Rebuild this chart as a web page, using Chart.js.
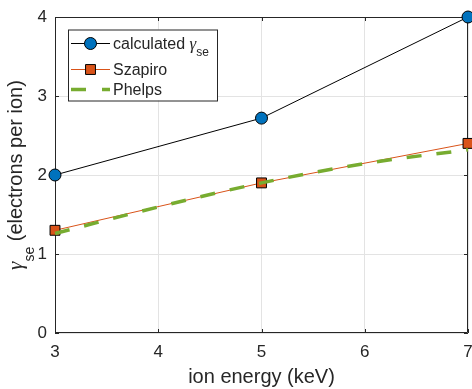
<!DOCTYPE html>
<html>
<head>
<meta charset="utf-8">
<script src="https://cdn.jsdelivr.net/npm/chart.js@4.4.1/dist/chart.umd.min.js"></script>
<style>
  html, body { margin: 0; padding: 0; background: #ffffff; }
  #wrap { width: 472px; height: 389px; }
</style>
</head>
<body>
<div id="wrap"><canvas id="c" width="472" height="389"></canvas></div>
<script>
// Secondary electron yield versus ion energy
const energies = [3, 5, 7];
const calculated = [2.0, 2.72, 4.0];
const szapiro = [1.30, 1.90, 2.40];
const phelpsEnergies = [3, 4, 5, 6, 7];
const phelps = [1.26, 1.595, 1.90, 2.145, 2.32];
const xTicks = [3, 4, 5, 6, 7];
const yTicks = [0, 1, 2, 3, 4];

const SANS = '"Liberation Sans", Arial, Helvetica, sans-serif';
const SERIF = '"Liberation Serif", "DejaVu Serif", serif';
const INK = '#262626';
const GRID = '#e3e3e3';
const BLUE = '#0072BD';
const ORANGE = '#D95319';
const GREEN = '#77AC30';

const pts = (xs, ys) => xs.map((x, i) => ({ x: x, y: ys[i] }));

// Axes box with inward tick marks on all four sides
const boxPlugin = {
  id: 'box',
  beforeDatasetsDraw(chart) {
    const { ctx, chartArea: a, scales } = chart;
    ctx.save();
    ctx.strokeStyle = INK;
    ctx.lineWidth = 1;
    ctx.beginPath();
    ctx.rect(a.left + 0.5, a.top + 0.5, a.right - a.left - 1, a.bottom - a.top - 1);
    ctx.stroke();
    const tl = 4;
    ctx.beginPath();
    xTicks.forEach(v => {
      const px = Math.round(scales.x.getPixelForValue(v)) + 0.5;
      ctx.moveTo(px, a.bottom); ctx.lineTo(px, a.bottom - tl);
      ctx.moveTo(px, a.top); ctx.lineTo(px, a.top + tl);
    });
    yTicks.forEach(v => {
      const py = Math.round(scales.y.getPixelForValue(v)) + 0.5;
      ctx.moveTo(a.left, py); ctx.lineTo(a.left + tl, py);
      ctx.moveTo(a.right, py); ctx.lineTo(a.right - tl, py);
    });
    ctx.stroke();
    ctx.restore();
  }
};

// Draws a text run with a subscript, returns advance width
function runWidth(ctx, parts) {
  let w = 0;
  parts.forEach(p => { ctx.font = p.font; w += ctx.measureText(p.text).width; });
  return w;
}
function drawRun(ctx, parts, x, y) {
  parts.forEach(p => {
    ctx.font = p.font;
    ctx.fillText(p.text, x, y + (p.dy || 0));
    x += ctx.measureText(p.text).width;
  });
  return x;
}

// Y-axis title and legend box
const annotPlugin = {
  id: 'annot',
  afterDraw(chart) {
    const ctx = chart.ctx;
    const a = chart.chartArea;
    ctx.save();
    ctx.fillStyle = INK;
    ctx.textBaseline = 'alphabetic';
    ctx.textAlign = 'left';

    // y title, rotated
    const yParts = [
      { text: '\u03B3', font: 'italic 21px ' + SERIF },
      { text: 'se', font: '14px ' + SANS, dy: 12 },
      { text: ' (electrons per ion)', font: '20px ' + SANS }
    ];
    const tw = runWidth(ctx, yParts);
    ctx.save();
    ctx.translate(22, (a.top + a.bottom) / 2);
    ctx.rotate(-Math.PI / 2);
    drawRun(ctx, yParts, -tw / 2, 0);
    ctx.restore();

    // legend
    const L = { x: 68, y: 29.5, w: 149, h: 71 };
    ctx.fillStyle = '#ffffff';
    ctx.fillRect(L.x, L.y, L.w, L.h);
    ctx.strokeStyle = INK;
    ctx.lineWidth = 1;
    ctx.strokeRect(L.x + 0.5, L.y + 0.5, L.w, L.h);

    const x0 = 71, x1 = 110, xm = (x0 + x1) / 2, tx = 113;
    const rows = [43.5, 69.5, 89.5];
    const ds = chart.data.datasets;

    // row 1: calculated
    ctx.strokeStyle = '#000'; ctx.lineWidth = 1; ctx.setLineDash([]);
    ctx.beginPath(); ctx.moveTo(x0, rows[0]); ctx.lineTo(x1, rows[0]); ctx.stroke();
    ctx.fillStyle = BLUE; ctx.strokeStyle = '#000';
    Chart.helpers.drawPoint(ctx, { pointStyle: 'circle', radius: ds[0].pointRadius, borderWidth: 1, rotation: 0 }, xm, rows[0]);
    ctx.fillStyle = INK;
    drawRun(ctx, [
      { text: 'calculated ', font: '16px ' + SANS },
      { text: '\u03B3', font: 'italic 17px ' + SERIF },
      { text: 'se', font: '12px ' + SANS, dy: 7 }
    ], tx, rows[0] + 5.5);

    // row 2: Szapiro
    ctx.strokeStyle = ORANGE; ctx.lineWidth = 1;
    ctx.beginPath(); ctx.moveTo(x0, rows[1]); ctx.lineTo(x1, rows[1]); ctx.stroke();
    ctx.fillStyle = ORANGE; ctx.strokeStyle = '#000';
    Chart.helpers.drawPoint(ctx, { pointStyle: 'rect', radius: ds[1].pointRadius, borderWidth: 1, rotation: 0 }, xm, rows[1]);
    ctx.fillStyle = INK;
    ctx.font = '16px ' + SANS;
    ctx.fillText('Szapiro', tx, rows[1] + 5.5);

    // row 3: Phelps
    ctx.strokeStyle = GREEN; ctx.lineWidth = 3.5; ctx.setLineDash([15, 16]);
    ctx.beginPath(); ctx.moveTo(x0, rows[2]); ctx.lineTo(x1, rows[2]); ctx.stroke();
    ctx.setLineDash([]);
    ctx.fillStyle = INK;
    ctx.fillText('Phelps', tx, rows[2] + 5.5);
    ctx.restore();
  }
};

new Chart(document.getElementById('c'), {
  type: 'line',
  data: {
    datasets: [
      {
        label: 'calculated',
        data: pts(energies, calculated),
        borderColor: '#000000',
        borderWidth: 1,
        pointStyle: 'circle',
        pointRadius: 6,
        pointBackgroundColor: BLUE,
        pointBorderColor: '#000000',
        pointBorderWidth: 1,
        tension: 0,
        clip: false,
        order: 0
      },
      {
        label: 'Szapiro',
        data: pts(energies, szapiro),
        borderColor: ORANGE,
        borderWidth: 1,
        pointStyle: 'rect',
        pointRadius: 7,
        pointBackgroundColor: ORANGE,
        pointBorderColor: '#000000',
        pointBorderWidth: 1,
        tension: 0,
        clip: false,
        order: 2
      },
      {
        label: 'Phelps',
        data: pts(phelpsEnergies, phelps),
        borderColor: GREEN,
        borderWidth: 3.5,
        borderDash: [15, 15],
        borderCapStyle: 'butt',
        pointRadius: 0,
        cubicInterpolationMode: 'monotone',
        clip: false,
        order: 1
      }
    ]
  },
  options: {
    responsive: false,
    devicePixelRatio: 1,
    animation: false,
    events: [],
    layout: { autoPadding: false, padding: { top: 17, right: 4, left: 0, bottom: 0 } },
    plugins: { legend: { display: false }, tooltip: { enabled: false } },
    scales: {
      x: {
        type: 'linear',
        min: 3, max: 7,
        afterBuildTicks: s => { s.ticks = xTicks.map(v => ({ value: v })); },
        afterFit: s => { s.height = 56; s.paddingLeft = 0; s.paddingRight = 0; },
        grid: { color: GRID, drawTicks: false },
        border: { display: false },
        ticks: { color: INK, font: { family: SANS, size: 17 }, padding: 9, maxRotation: 0 },
        title: { display: true, text: 'ion energy (keV)', color: INK, font: { family: SANS, size: 20 }, padding: { top: 0, bottom: 0 } }
      },
      y: {
        type: 'linear',
        min: 0, max: 4,
        afterBuildTicks: s => { s.ticks = yTicks.map(v => ({ value: v })); },
        afterFit: s => { s.width = 55; s.paddingTop = 0; s.paddingBottom = 0; },
        grid: { color: GRID, drawTicks: false },
        border: { display: false },
        ticks: { color: INK, font: { family: SANS, size: 17 }, padding: 8 }
      }
    }
  },
  plugins: [boxPlugin, annotPlugin]
});
</script>
</body>
</html>
